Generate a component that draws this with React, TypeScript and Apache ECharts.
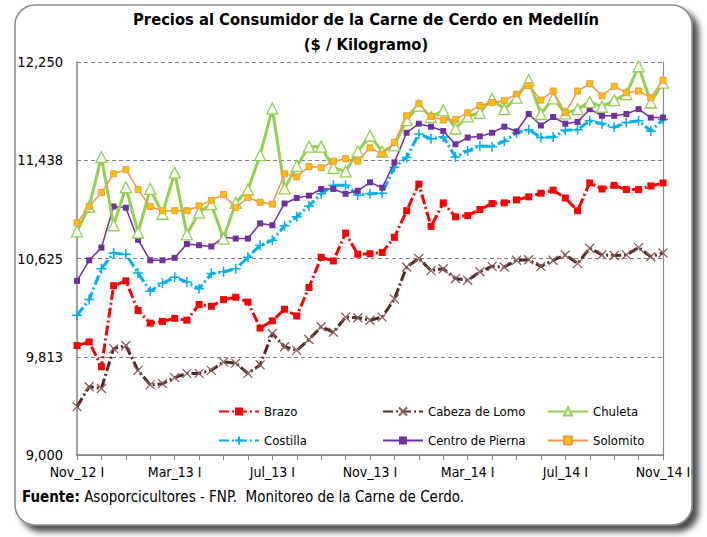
import { useEffect, useRef } from "react";
import * as echarts from "echarts";

const BASE = 9000;
const STEP = 812.5;

const categories = [
  "Nov_12 I", "Nov_12 II", "Dic_12 I", "Dic_12 II", "Ene_13 I", "Ene_13 II", "Feb_13 I", "Feb_13 II",
  "Mar_13 I", "Mar_13 II", "Abr_13 I", "Abr_13 II", "May_13 I", "May_13 II", "Jun_13 I", "Jun_13 II",
  "Jul_13 I", "Jul_13 II", "Ago_13 I", "Ago_13 II", "Sep_13 I", "Sep_13 II", "Oct_13 I", "Oct_13 II",
  "Nov_13 I", "Nov_13 II", "Dic_13 I", "Dic_13 II", "Ene_14 I", "Ene_14 II", "Feb_14 I", "Feb_14 II",
  "Mar_14 I", "Mar_14 II", "Abr_14 I", "Abr_14 II", "May_14 I", "May_14 II", "Jun_14 I", "Jun_14 II",
  "Jul_14 I", "Jul_14 II", "Ago_14 I", "Ago_14 II", "Sep_14 I", "Sep_14 II", "Oct_14 I", "Oct_14 II",
  "Nov_14 I",
];

const yTickLabels = ["9,000", "9,813", "10,625", "11,438", "12,250"];

const brazo = [
  9905, 9935, 9730, 10400, 10440, 10195, 10090, 10105, 10130, 10115,
  10245, 10230, 10285, 10305, 10265, 10050, 10110, 10205, 10150, 10385,
  10635, 10605, 10835, 10660, 10665, 10675, 10800, 11020, 11240, 10890,
  11085, 10970, 10980, 11030, 11080, 11085, 11110, 11135, 11165, 11190,
  11125, 11020, 11250, 11200, 11230, 11195, 11195, 11225, 11250,
];

const cabezaDeLomo = [
  9400, 9565, 9550, 9880, 9905, 9700, 9580, 9590, 9640, 9675,
  9675, 9700, 9770, 9760, 9675, 9745, 10005, 9895, 9865, 9955,
  10060, 10015, 10140, 10135, 10115, 10140, 10290, 10555, 10625, 10525,
  10540, 10460, 10445, 10515, 10560, 10555, 10610, 10615, 10560, 10610,
  10655, 10585, 10710, 10655, 10650, 10655, 10715, 10640, 10670,
];

const chuleta = [
  10850, 11055, 11465, 10900, 11215, 10840, 11200, 10995, 11335, 10825,
  11005, 11075, 10790, 11085, 11195, 11480, 11865, 11205, 11390, 11550,
  11550, 11375, 11345, 11510, 11640, 11510, 11560, 11770, 11890, 11795,
  11850, 11700, 11800, 11830, 11945, 11860, 11955, 12100, 11820, 11950,
  11825, 11860, 11920, 11880, 11935, 11985, 12215, 11915, 12080,
];

const costilla = [
  10155, 10285, 10540, 10670, 10660, 10505, 10355, 10420, 10470, 10430,
  10375, 10500, 10515, 10540, 10635, 10735, 10775, 10895, 10970, 11060,
  11160, 11230, 11230, 11150, 11160, 11165, 11380, 11460, 11655, 11615,
  11630, 11465, 11515, 11555, 11550, 11595, 11665, 11690, 11625, 11630,
  11685, 11690, 11765, 11740, 11710, 11750, 11765, 11680, 11775,
];

const centroDePierna = [
  10440, 10610, 10715, 11055, 11045, 10780, 10610, 10610, 10630, 10745,
  10735, 10725, 10800, 10790, 10790, 10915, 10900, 11080, 11125, 11145,
  11200, 11200, 11160, 11185, 11255, 11210, 11420, 11665, 11740, 11715,
  11680, 11570, 11625, 11635, 11665, 11715, 11675, 11820, 11725, 11795,
  11740, 11755, 11860, 11805, 11805, 11820, 11860, 11790, 11790,
];

const solomito = [
  10920, 11055, 11170, 11325, 11360, 11195, 11055, 11020, 11020, 11020,
  11060, 11105, 11155, 11045, 11130, 11090, 11075, 11325, 11300, 11385,
  11375, 11430, 11450, 11430, 11540, 11490, 11585, 11805, 11905, 11800,
  11770, 11775, 11830, 11890, 11915, 11930, 11985, 12055, 11935, 12010,
  11830, 12010, 12070, 11970, 12050, 11995, 12010, 11955, 12100,
];

const FONT = "'DejaVu Sans Condensed', 'Liberation Sans Narrow', 'Liberation Sans', Arial, sans-serif";

const CROSS = "path://M0,0L10,10M10,0L0,10";
const PLUS = "path://M5,0L5,10M0,5L10,5";

function line(name: string, values: number[], opts: any) {
  return {
    type: "line",
    name,
    data: values.map((v) => v - BASE),
    xAxisIndex: 0,
    yAxisIndex: 0,
    showSymbol: true,
    showAllSymbol: true,
    symbol: opts.symbol,
    symbolSize: opts.symbolSize,
    lineStyle: { color: opts.color, width: opts.width, type: opts.type || "solid" },
    itemStyle: opts.itemStyle,
    z: opts.z,
    emphasis: { disabled: true },
  };
}

function legendItem(name: string, left: number, top: number) {
  return {
    data: [name],
    left,
    top,
    padding: 0,
    itemWidth: 40,
    itemHeight: 10,
    selectedMode: false,
    textStyle: { color: "#000", fontSize: 13, fontFamily: FONT },
  };
}

export default function App() {
  const ref = useRef<HTMLDivElement>(null);

  useEffect(() => {
    const chart = echarts.init(ref.current!, null, { renderer: "svg" });
    const option: any = {
      animation: false,
      backgroundColor: "#ffffff",
      grid: { left: 77, right: 44, top: 62, bottom: 82, containLabel: false },
      graphic: [
        {
          type: "rect",
          z: -10,
          shape: { x: 15, y: 5, width: 677, height: 520, r: 20 },
          style: {
            fill: "#ffffff",
            stroke: "#8a8a8a",
            lineWidth: 1.5,
            shadowBlur: 6,
            shadowOffsetX: 6,
            shadowOffsetY: 6,
            shadowColor: "rgba(0,0,0,0.7)",
          },
        },
        {
          type: "text",
          x: 366,
          y: 19,
          style: {
            text: "Precios al Consumidor de la Carne de Cerdo en Medellín",
            fill: "#000",
            fontSize: 16.4,
            fontWeight: "bold",
            fontFamily: FONT,
            align: "center",
            verticalAlign: "middle",
          },
        },
        {
          type: "text",
          x: 366,
          y: 44,
          style: {
            text: "($ / Kilogramo)",
            fill: "#000",
            fontSize: 16.4,
            fontWeight: "bold",
            fontFamily: FONT,
            align: "center",
            verticalAlign: "middle",
          },
        },
        {
          type: "text",
          x: 22,
          y: 497,
          style: {
            text: "{b|Fuente:} Asoporcicultores - FNP.  Monitoreo de la Carne de Cerdo.",
            fill: "#000",
            fontSize: 15,
            fontFamily: FONT,
            verticalAlign: "middle",
            rich: { b: { fontWeight: "bold", fontSize: 15, fontFamily: FONT } },
          },
        },
      ],
      legend: [
        legendItem("Brazo", 218, 405),
        legendItem("Cabeza de Lomo", 382, 405),
        legendItem("Chuleta", 547, 405),
        legendItem("Costilla", 218, 434),
        legendItem("Centro de Pierna", 382, 434),
        legendItem("Solomito", 547, 434),
      ],
      xAxis: [
        {
          type: "category",
          data: categories,
          boundaryGap: false,
          axisLine: { lineStyle: { color: "#7f7f7f", width: 1.5 } },
          axisTick: {
            show: true,
            interval: (i: number) => i % 2 === 0,
            length: 5,
            lineStyle: { color: "#7f7f7f" },
          },
          axisLabel: {
            interval: (i: number) => i % 8 === 0,
            color: "#000",
            fontSize: 14,
            fontFamily: FONT,
            margin: 10,
          },
          splitLine: { show: false },
        },
        {
          type: "category",
          data: categories,
          boundaryGap: false,
          position: "top",
          axisLine: { lineStyle: { color: "#8a8a8a", width: 1.2 } },
          axisTick: { show: false },
          axisLabel: { show: false },
          splitLine: { show: false },
        },
      ],
      yAxis: [
        {
          type: "value",
          min: 0,
          max: STEP * 4,
          interval: STEP,
          axisLine: { show: true, lineStyle: { color: "#7f7f7f", width: 1.5 } },
          axisTick: { show: false },
          axisLabel: {
            formatter: (v: number) => yTickLabels[Math.round(v / STEP)],
            color: "#000",
            fontSize: 14.5,
            fontFamily: FONT,
            margin: 14,
          },
          splitLine: { show: true, lineStyle: { color: "#808080", type: [4, 3], width: 1 } },
        },
        {
          type: "value",
          min: 0,
          max: STEP * 4,
          interval: STEP,
          position: "right",
          axisLine: { show: true, lineStyle: { color: "#8a8a8a", width: 1.2 } },
          axisTick: { show: false },
          axisLabel: { show: false },
          splitLine: { show: false },
        },
      ],
      series: [
        line("Cabeza de Lomo", cabezaDeLomo, {
          color: "#5a2626",
          width: 3,
          type: [10, 3, 2, 3],
          symbol: CROSS,
          symbolSize: 9,
          itemStyle: { color: "none", borderColor: "#8a5c5c", borderWidth: 1.3 },
          z: 2,
        }),
        line("Brazo", brazo, {
          color: "#ff0000",
          width: 3,
          type: [10, 3, 2, 3],
          symbol: "rect",
          symbolSize: 7,
          itemStyle: { color: "#ff0000", borderColor: "#ff0000", borderWidth: 0 },
          z: 3,
        }),
        line("Costilla", costilla, {
          color: "#00b0f0",
          width: 3,
          type: [10, 3, 2, 3],
          symbol: PLUS,
          symbolSize: 10,
          itemStyle: { color: "none", borderColor: "#00b0f0", borderWidth: 1.5 },
          z: 4,
        }),
        line("Centro de Pierna", centroDePierna, {
          color: "#7030a0",
          width: 1.5,
          symbol: "rect",
          symbolSize: 6,
          itemStyle: { color: "#7030a0", borderColor: "#7030a0", borderWidth: 0 },
          z: 5,
        }),
        line("Chuleta", chuleta, {
          color: "#92d050",
          width: 3,
          symbol: "triangle",
          symbolSize: 11,
          itemStyle: { color: "#ffffff", borderColor: "#92d050", borderWidth: 1.3 },
          z: 6,
        }),
        line("Solomito", solomito, {
          color: "#f79646",
          width: 1.5,
          symbol: "rect",
          symbolSize: 6,
          itemStyle: { color: "#ffc000", borderColor: "#f79646", borderWidth: 1 },
          z: 7,
        }),
      ],
    };
    chart.setOption(option);
    return () => chart.dispose();
  }, []);

  return (
    <div
      ref={ref}
      style={{ position: "fixed", left: 0, top: 0, width: 707, height: 537, background: "#ffffff" }}
    />
  );
}
